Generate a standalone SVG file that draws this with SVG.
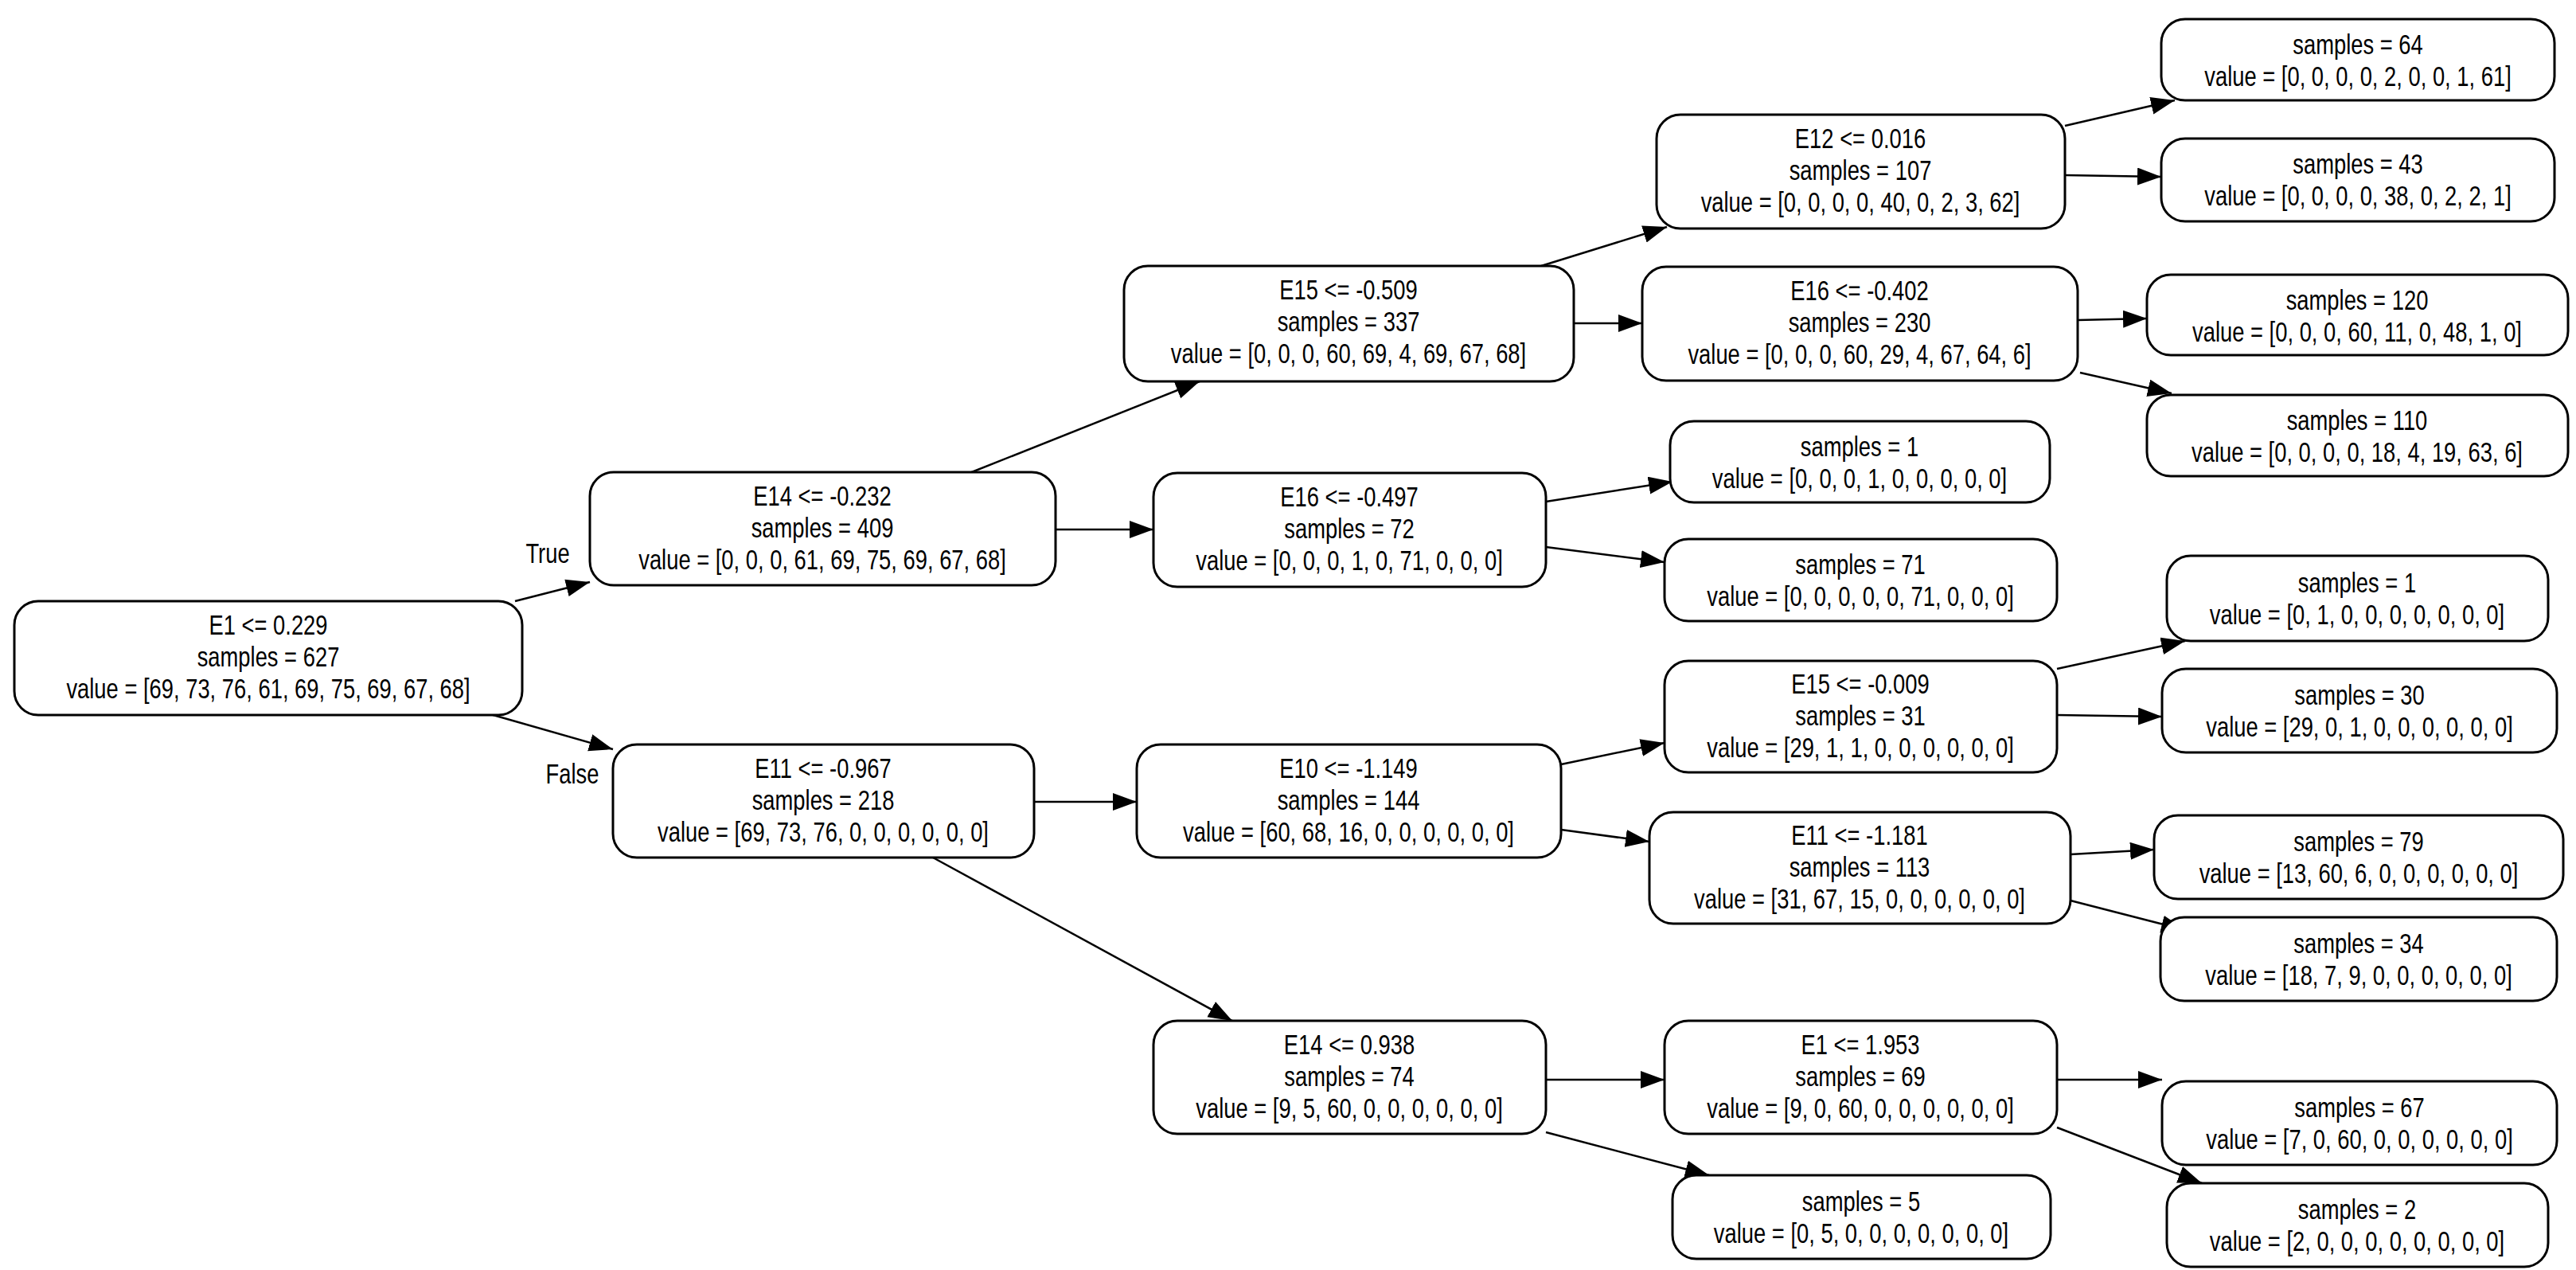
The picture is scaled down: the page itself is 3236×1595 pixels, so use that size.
<svg xmlns="http://www.w3.org/2000/svg" width="3236" height="1595" viewBox="0 0 3236 1595">
<style>
.n rect{fill:#fff;stroke:#000;stroke-width:3}
text{font-family:"Liberation Sans",Arial,sans-serif;font-size:36px;text-anchor:middle;fill:#000}
.e line{stroke:#000;stroke-width:2.5;marker-end:url(#a)}
</style>
<defs><marker id="a" markerUnits="userSpaceOnUse" markerWidth="32" markerHeight="24" refX="30" refY="11" orient="auto"><path d="M0,0L30,11L0,22Z" fill="#000"/></marker></defs>
<rect width="3236" height="1595" fill="#fff"/>
<g class="e">
<line x1="647" y1="755" x2="741" y2="731"/>
<line x1="616" y1="897" x2="770" y2="941"/>
<line x1="1218" y1="594" x2="1507" y2="479"/>
<line x1="1326" y1="665" x2="1449" y2="665"/>
<line x1="1936" y1="334" x2="2094" y2="285"/>
<line x1="1977" y1="406" x2="2063" y2="406"/>
<line x1="2594" y1="158" x2="2732" y2="126"/>
<line x1="2594" y1="220" x2="2715" y2="222"/>
<line x1="2610" y1="402" x2="2697" y2="400"/>
<line x1="2613" y1="468" x2="2728" y2="494"/>
<line x1="1942" y1="630" x2="2101" y2="605"/>
<line x1="1942" y1="687" x2="2091" y2="706"/>
<line x1="1299" y1="1007" x2="1428" y2="1007"/>
<line x1="1172" y1="1077" x2="1548" y2="1282"/>
<line x1="1961" y1="960" x2="2091" y2="933"/>
<line x1="1961" y1="1042" x2="2072" y2="1057"/>
<line x1="2584" y1="840" x2="2745" y2="805"/>
<line x1="2584" y1="898" x2="2716" y2="900"/>
<line x1="2601" y1="1073" x2="2706" y2="1067"/>
<line x1="2601" y1="1131" x2="2745" y2="1168"/>
<line x1="1942" y1="1356" x2="2091" y2="1356"/>
<line x1="1942" y1="1422" x2="2147" y2="1476"/>
<line x1="2584" y1="1356" x2="2716" y2="1356"/>
<line x1="2584" y1="1416" x2="2766" y2="1486"/>
</g>
<text transform="translate(688,707) scale(0.76,1)">True</text>
<text transform="translate(719,984) scale(0.76,1)">False</text>
<g id="n0" class="n"><rect x="18" y="755" width="638" height="143" rx="30"/>
<text transform="translate(337,797) scale(0.76,1)">E1 &lt;= 0.229</text>
<text transform="translate(337,837) scale(0.76,1)">samples = 627</text>
<text transform="translate(337,877) scale(0.76,1)">value = [69, 73, 76, 61, 69, 75, 69, 67, 68]</text></g>
<g id="n1" class="n"><rect x="741" y="593" width="585" height="142" rx="30"/>
<text transform="translate(1033,635) scale(0.76,1)">E14 &lt;= -0.232</text>
<text transform="translate(1033,675) scale(0.76,1)">samples = 409</text>
<text transform="translate(1033,715) scale(0.76,1)">value = [0, 0, 0, 61, 69, 75, 69, 67, 68]</text></g>
<g id="n2" class="n"><rect x="1412" y="334" width="565" height="145" rx="30"/>
<text transform="translate(1694,376) scale(0.76,1)">E15 &lt;= -0.509</text>
<text transform="translate(1694,416) scale(0.76,1)">samples = 337</text>
<text transform="translate(1694,456) scale(0.76,1)">value = [0, 0, 0, 60, 69, 4, 69, 67, 68]</text></g>
<g id="n3" class="n"><rect x="2081" y="144" width="513" height="143" rx="30"/>
<text transform="translate(2337,186) scale(0.76,1)">E12 &lt;= 0.016</text>
<text transform="translate(2337,226) scale(0.76,1)">samples = 107</text>
<text transform="translate(2337,266) scale(0.76,1)">value = [0, 0, 0, 0, 40, 0, 2, 3, 62]</text></g>
<g id="n4" class="n"><rect x="2715" y="24" width="494" height="102" rx="30"/>
<text transform="translate(2962,68) scale(0.76,1)">samples = 64</text>
<text transform="translate(2962,108) scale(0.76,1)">value = [0, 0, 0, 0, 2, 0, 0, 1, 61]</text></g>
<g id="n5" class="n"><rect x="2715" y="174" width="494" height="104" rx="30"/>
<text transform="translate(2962,218) scale(0.76,1)">samples = 43</text>
<text transform="translate(2962,258) scale(0.76,1)">value = [0, 0, 0, 0, 38, 0, 2, 2, 1]</text></g>
<g id="n6" class="n"><rect x="2063" y="335" width="547" height="143" rx="30"/>
<text transform="translate(2336,377) scale(0.76,1)">E16 &lt;= -0.402</text>
<text transform="translate(2336,417) scale(0.76,1)">samples = 230</text>
<text transform="translate(2336,457) scale(0.76,1)">value = [0, 0, 0, 60, 29, 4, 67, 64, 6]</text></g>
<g id="n7" class="n"><rect x="2697" y="345" width="529" height="101" rx="30"/>
<text transform="translate(2961,389) scale(0.76,1)">samples = 120</text>
<text transform="translate(2961,429) scale(0.76,1)">value = [0, 0, 0, 60, 11, 0, 48, 1, 0]</text></g>
<g id="n8" class="n"><rect x="2697" y="496" width="529" height="102" rx="30"/>
<text transform="translate(2961,540) scale(0.76,1)">samples = 110</text>
<text transform="translate(2961,580) scale(0.76,1)">value = [0, 0, 0, 0, 18, 4, 19, 63, 6]</text></g>
<g id="n9" class="n"><rect x="1449" y="594" width="493" height="143" rx="30"/>
<text transform="translate(1695,636) scale(0.76,1)">E16 &lt;= -0.497</text>
<text transform="translate(1695,676) scale(0.76,1)">samples = 72</text>
<text transform="translate(1695,716) scale(0.76,1)">value = [0, 0, 0, 1, 0, 71, 0, 0, 0]</text></g>
<g id="n10" class="n"><rect x="2098" y="529" width="477" height="102" rx="30"/>
<text transform="translate(2336,573) scale(0.76,1)">samples = 1</text>
<text transform="translate(2336,613) scale(0.76,1)">value = [0, 0, 0, 1, 0, 0, 0, 0, 0]</text></g>
<g id="n11" class="n"><rect x="2091" y="677" width="493" height="103" rx="30"/>
<text transform="translate(2337,721) scale(0.76,1)">samples = 71</text>
<text transform="translate(2337,761) scale(0.76,1)">value = [0, 0, 0, 0, 0, 71, 0, 0, 0]</text></g>
<g id="n12" class="n"><rect x="770" y="935" width="529" height="142" rx="30"/>
<text transform="translate(1034,977) scale(0.76,1)">E11 &lt;= -0.967</text>
<text transform="translate(1034,1017) scale(0.76,1)">samples = 218</text>
<text transform="translate(1034,1057) scale(0.76,1)">value = [69, 73, 76, 0, 0, 0, 0, 0, 0]</text></g>
<g id="n13" class="n"><rect x="1428" y="935" width="533" height="142" rx="30"/>
<text transform="translate(1694,977) scale(0.76,1)">E10 &lt;= -1.149</text>
<text transform="translate(1694,1017) scale(0.76,1)">samples = 144</text>
<text transform="translate(1694,1057) scale(0.76,1)">value = [60, 68, 16, 0, 0, 0, 0, 0, 0]</text></g>
<g id="n14" class="n"><rect x="2091" y="830" width="493" height="140" rx="30"/>
<text transform="translate(2337,871) scale(0.76,1)">E15 &lt;= -0.009</text>
<text transform="translate(2337,911) scale(0.76,1)">samples = 31</text>
<text transform="translate(2337,951) scale(0.76,1)">value = [29, 1, 1, 0, 0, 0, 0, 0, 0]</text></g>
<g id="n15" class="n"><rect x="2722" y="698" width="479" height="107" rx="30"/>
<text transform="translate(2961,744) scale(0.76,1)">samples = 1</text>
<text transform="translate(2961,784) scale(0.76,1)">value = [0, 1, 0, 0, 0, 0, 0, 0, 0]</text></g>
<g id="n16" class="n"><rect x="2716" y="840" width="496" height="105" rx="30"/>
<text transform="translate(2964,885) scale(0.76,1)">samples = 30</text>
<text transform="translate(2964,925) scale(0.76,1)">value = [29, 0, 1, 0, 0, 0, 0, 0, 0]</text></g>
<g id="n17" class="n"><rect x="2072" y="1020" width="529" height="140" rx="30"/>
<text transform="translate(2336,1061) scale(0.76,1)">E11 &lt;= -1.181</text>
<text transform="translate(2336,1101) scale(0.76,1)">samples = 113</text>
<text transform="translate(2336,1141) scale(0.76,1)">value = [31, 67, 15, 0, 0, 0, 0, 0, 0]</text></g>
<g id="n18" class="n"><rect x="2706" y="1024" width="514" height="105" rx="30"/>
<text transform="translate(2963,1069) scale(0.76,1)">samples = 79</text>
<text transform="translate(2963,1109) scale(0.76,1)">value = [13, 60, 6, 0, 0, 0, 0, 0, 0]</text></g>
<g id="n19" class="n"><rect x="2714" y="1152" width="498" height="105" rx="30"/>
<text transform="translate(2963,1197) scale(0.76,1)">samples = 34</text>
<text transform="translate(2963,1237) scale(0.76,1)">value = [18, 7, 9, 0, 0, 0, 0, 0, 0]</text></g>
<g id="n20" class="n"><rect x="1449" y="1282" width="493" height="142" rx="30"/>
<text transform="translate(1695,1324) scale(0.76,1)">E14 &lt;= 0.938</text>
<text transform="translate(1695,1364) scale(0.76,1)">samples = 74</text>
<text transform="translate(1695,1404) scale(0.76,1)">value = [9, 5, 60, 0, 0, 0, 0, 0, 0]</text></g>
<g id="n21" class="n"><rect x="2091" y="1282" width="493" height="142" rx="30"/>
<text transform="translate(2337,1324) scale(0.76,1)">E1 &lt;= 1.953</text>
<text transform="translate(2337,1364) scale(0.76,1)">samples = 69</text>
<text transform="translate(2337,1404) scale(0.76,1)">value = [9, 0, 60, 0, 0, 0, 0, 0, 0]</text></g>
<g id="n22" class="n"><rect x="2716" y="1358" width="496" height="105" rx="30"/>
<text transform="translate(2964,1403) scale(0.76,1)">samples = 67</text>
<text transform="translate(2964,1443) scale(0.76,1)">value = [7, 0, 60, 0, 0, 0, 0, 0, 0]</text></g>
<g id="n23" class="n"><rect x="2722" y="1486" width="479" height="105" rx="30"/>
<text transform="translate(2961,1531) scale(0.76,1)">samples = 2</text>
<text transform="translate(2961,1571) scale(0.76,1)">value = [2, 0, 0, 0, 0, 0, 0, 0, 0]</text></g>
<g id="n24" class="n"><rect x="2101" y="1476" width="475" height="105" rx="30"/>
<text transform="translate(2338,1521) scale(0.76,1)">samples = 5</text>
<text transform="translate(2338,1561) scale(0.76,1)">value = [0, 5, 0, 0, 0, 0, 0, 0, 0]</text></g>
</svg>
